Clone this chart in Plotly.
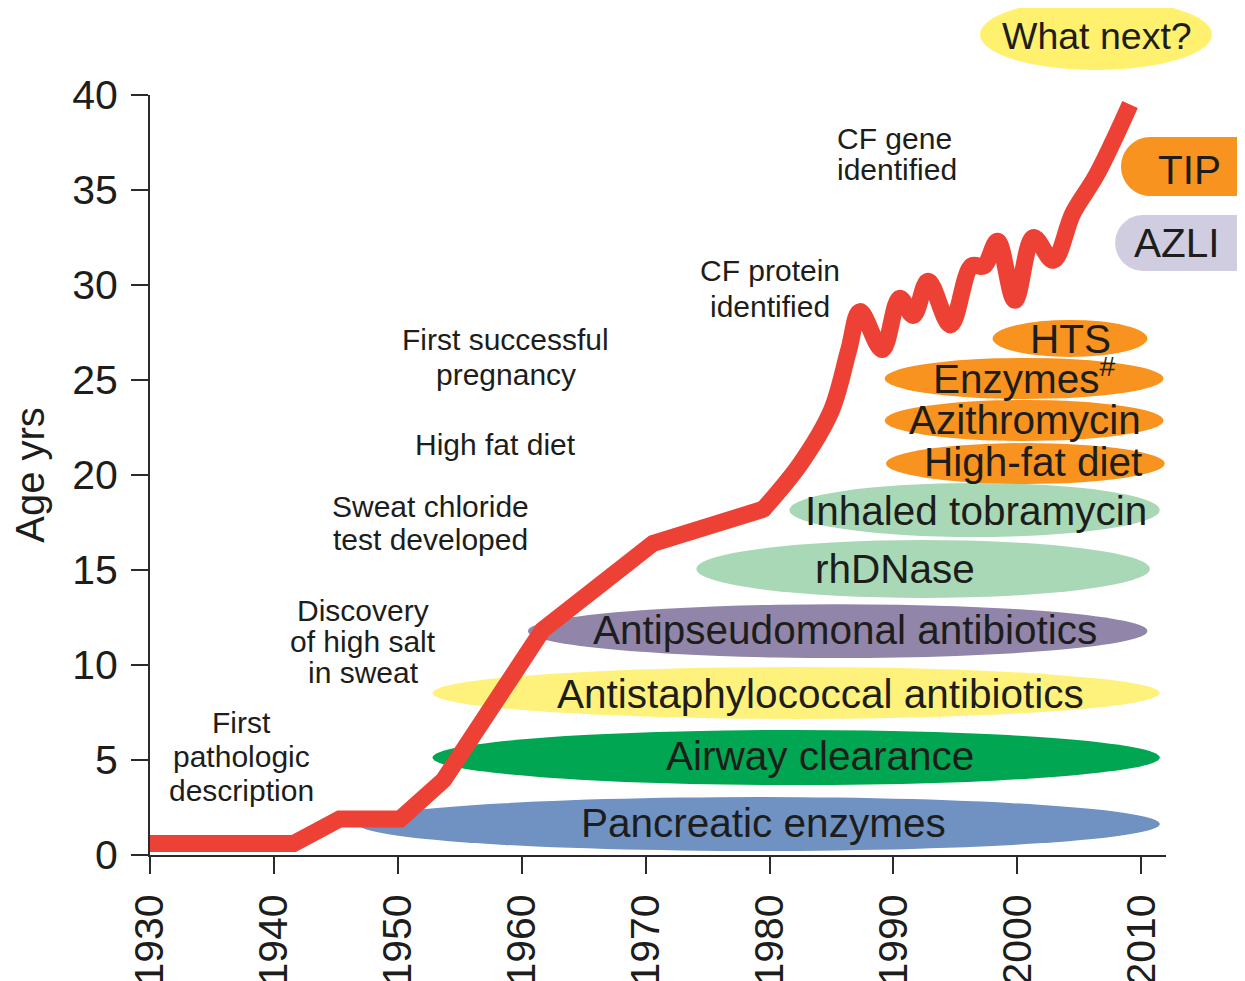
import plotly.graph_objects as go

# ---------------- data ----------------
# median predicted survival (age, years) of CF patients
years_early = [1930, 1941.6, 1945.3, 1950.2, 1953.7, 1961.7, 1970.6, 1979.5]
age_early = [0.6, 0.6, 1.9, 1.9, 3.95, 11.85, 16.4, 18.2]
years_recent = [1979.5, 1982.5, 1985.0, 1986.4, 1987.3, 1989.1, 1990.5, 1991.6,
                1992.8, 1994.6, 1996.3, 1997.3, 1998.4, 1999.8, 2001.3, 2002.9,
                2004.5, 2006.4, 2009.1]
age_recent = [18.2, 20.6, 23.4, 26.6, 28.6, 26.6, 29.3, 28.4,
              30.2, 27.9, 31.0, 31.0, 32.3, 29.2, 32.5, 31.3,
              33.8, 35.8, 39.5]

# therapies: name, year introduced, year shown to
therapies = ["Pancreatic enzymes", "Airway clearance", "Antistaphylococcal antibiotics",
             "Antipseudomonal antibiotics", "rhDNase", "Inhaled tobramycin",
             "High-fat diet", "Azithromycin", "Enzymes<sup>#</sup>", "HTS"]
therapy_start = [1946.8, 1952.8, 1952.8, 1960.5, 1974.1, 1981.6, 1989.4, 1989.3, 1989.3, 1998.0]
therapy_end = [2011.5, 2011.5, 2011.5, 2010.5, 2010.7, 2011.5, 2011.9, 2011.8, 2011.8, 2010.5]

new_therapies = ["TIP", "AZLI"]
new_start = [2008.37, 2007.9]

milestones = [["First", "pathologic", "description"],
              ["Discovery", "of high salt", "in sweat"],
              ["Sweat chloride", "test developed"],
              ["High fat diet"],
              ["First successful", "pregnancy"],
              ["CF protein", "identified"],
              ["CF gene", "identified"]]

x_ticks = [1930, 1940, 1950, 1960, 1970, 1980, 1990, 2000, 2010]
x_tick_labels = ["1930", "1940", "1950", "1960", "1970", "1980", "1990", "2000", "2010"]
y_ticks = [0, 5, 10, 15, 20, 25, 30, 35, 40]
y_tick_labels = ["0", "5", "10", "15", "20", "25", "30", "35", "40"]

# ---------------- layout / style ----------------
PAGE_W, PAGE_H, BODY = 1245, 981, 8          # browser window and page body margin
W, H = PAGE_W - BODY, PAGE_H - BODY
PX_L, PX_R, PX_T, PX_B = 150 - BODY, 1166 - BODY, 95 - BODY, 855 - BODY   # axes box
XR = [1930, 2012]
YR = [0, 40]
SX = (PX_R - PX_L) / (XR[1] - XR[0])
SY = (PX_B - PX_T) / (YR[1] - YR[0])
FX = [XR[0] - PX_L / SX, XR[1] + (W - PX_R) / SX]   # full-figure data range
FY = [YR[0] - (H - PX_B) / SY, YR[1] + PX_T / SY]

FONT = "Liberation Sans, Arial, sans-serif"
INK = "#1d1d1b"
AXC = "#2b2b2b"
RED = "#ED4136"
LW = 17
LABEL_SIZE = 40.5
MS_SIZE = 30

band_lo = [0.21, 3.68, 7.16, 10.37, 13.53, 16.74, 19.53, 21.79, 24.0, 26.21]
band_hi = [3.05, 6.58, 9.89, 13.2, 16.58, 19.58, 21.68, 23.95, 26.16, 28.16]
band_col = ["#6F92C3", "#00A651", "#FFF27C", "#9185A9", "#A9D8B6", "#A9D8B6",
            "#F7931E", "#F7931E", "#F7931E", "#F7931E"]
label_x = [1979.5, 1984.1, 1984.1, 1986.1, 1990.1, 1996.7, 2001.3, 2000.6, 2000.6, 2004.3]
label_y = [1.7, 5.2, 8.45, 11.85, 15.05, 18.1, 20.7, 22.9, 25.2, 27.15]

new_end = [2021.5, 2021.5]
new_lo = [34.68, 30.74]
new_hi = [37.79, 33.68]
new_col = ["#F7931E", "#D1CDE1"]
new_lx = [2013.9, 2012.9]
new_ly = [36.05, 32.2]

ms_x = [1937.4, 1947.2, 1952.6, 1957.9, 1958.7, 1980.0, 1985.3]
ms_y = [5.2, 11.26, 17.5, 21.6, 26.2, 29.8, 36.9]
ms_gap = [34, 31, 33, 0, 35, 36, 31]
ms_anchor = ["center"] * 6 + ["left"]


def pill(x0, x1, y0, y1):
    ry = (y1 - y0) / 2
    rx = ry * SY / SX
    k = 0.5523
    a, b = x0 + rx, x1 - rx
    yc = (y0 + y1) / 2
    return (f"M{a},{y1} L{b},{y1} "
            f"C{b + k * rx},{y1} {x1},{yc + k * ry} {x1},{yc} "
            f"C{x1},{yc - k * ry} {b + k * rx},{y0} {b},{y0} "
            f"L{a},{y0} "
            f"C{a - k * rx},{y0} {x0},{yc - k * ry} {x0},{yc} "
            f"C{x0},{yc + k * ry} {a - k * rx},{y1} {a},{y1} Z")


fig = go.Figure()

# survival curve (drawn in the full-figure data space, same scale as the axes)
fig.add_trace(go.Scatter(x=years_early, y=age_early, mode="lines",
                         line=dict(color=RED, width=LW, shape="linear"),
                         hoverinfo="skip", showlegend=False, xaxis="x", yaxis="y"))
fig.add_trace(go.Scatter(x=years_recent, y=age_recent, mode="lines",
                         line=dict(color=RED, width=LW, shape="spline", smoothing=1.0),
                         hoverinfo="skip", showlegend=False, xaxis="x", yaxis="y"))
# round joint where the two pieces meet
fig.add_trace(go.Scatter(x=[years_recent[0]], y=[age_recent[0]], mode="markers",
                         marker=dict(color=RED, size=LW, line=dict(width=0)),
                         hoverinfo="skip", showlegend=False, xaxis="x", yaxis="y"))
# anchor trace for the visible axes
fig.add_trace(go.Scatter(x=[XR[0]], y=[YR[0]], mode="markers", marker=dict(opacity=0),
                         hoverinfo="skip", showlegend=False, xaxis="x2", yaxis="y2"))

shapes = []
annotations = []
for i, name in enumerate(therapies):
    shapes.append(dict(type="circle", xref="x", yref="y", layer="below",
                       x0=therapy_start[i], x1=therapy_end[i], y0=band_lo[i], y1=band_hi[i],
                       fillcolor=band_col[i], line=dict(width=0)))
    annotations.append(dict(x=label_x[i], y=label_y[i], xref="x", yref="y", text=name,
                            showarrow=False, font=dict(family=FONT, size=LABEL_SIZE, color=INK),
                            xanchor="center", yanchor="middle"))

for i, name in enumerate(new_therapies):
    shapes.append(dict(type="path", xref="x", yref="y", layer="below",
                       path=pill(new_start[i], new_end[i], new_lo[i], new_hi[i]),
                       fillcolor=new_col[i], line=dict(width=0)))
    annotations.append(dict(x=new_lx[i], y=new_ly[i], xref="x", yref="y", text=name,
                            showarrow=False, font=dict(family=FONT, size=LABEL_SIZE, color=INK),
                            xanchor="center", yanchor="middle"))

# "What next?"
shapes.append(dict(type="circle", xref="x", yref="y", layer="below",
                   x0=1996.99, x1=2015.71, y0=41.32, y1=45.05,
                   fillcolor="#FFF06E", line=dict(width=0)))
annotations.append(dict(x=2006.4, y=43.1, xref="x", yref="y", text="What next?",
                        showarrow=False, font=dict(family=FONT, size=37.5, color=INK),
                        xanchor="center", yanchor="middle"))

for i, lines in enumerate(milestones):
    n = len(lines)
    for j, line in enumerate(lines):
        annotations.append(dict(x=ms_x[i], y=ms_y[i], xref="x", yref="y", text=line,
                                showarrow=False, yshift=((n - 1) / 2 - j) * ms_gap[i],
                                font=dict(family=FONT, size=MS_SIZE, color=INK),
                                xanchor=ms_anchor[i], yanchor="middle"))

axis_common = dict(showgrid=False, zeroline=False, showline=True, linecolor=AXC,
                   linewidth=2, ticks="outside", ticklen=17, tickwidth=2, tickcolor=AXC,
                   tickfont=dict(family=FONT, size=41, color=INK), fixedrange=True,
                   automargin=False)

fig.update_layout(
    template="none",
    width=W, height=H,
    margin=dict(l=0, r=0, t=0, b=0, autoexpand=False),
    paper_bgcolor="white", plot_bgcolor="rgba(0,0,0,0)",
    showlegend=False,
    xaxis=dict(domain=[0, 1], range=FX, visible=False, fixedrange=True, automargin=False),
    yaxis=dict(domain=[0, 1], range=FY, visible=False, fixedrange=True, automargin=False),
    xaxis2=dict(domain=[PX_L / W, PX_R / W], range=XR, anchor="y2",
                tickvals=x_ticks, ticktext=x_tick_labels, tickangle=-90,
                ticklabelstandoff=4, **axis_common),
    yaxis2=dict(domain=[(H - PX_B) / H, (H - PX_T) / H], range=YR, anchor="x2",
                tickvals=y_ticks, ticktext=y_tick_labels, ticklabelstandoff=5,
                title=dict(text="Age yrs", font=dict(family=FONT, size=40, color=INK),
                           standoff=17),
                **axis_common),
    shapes=shapes,
    annotations=annotations,
)

fig.write_html("out.html")
